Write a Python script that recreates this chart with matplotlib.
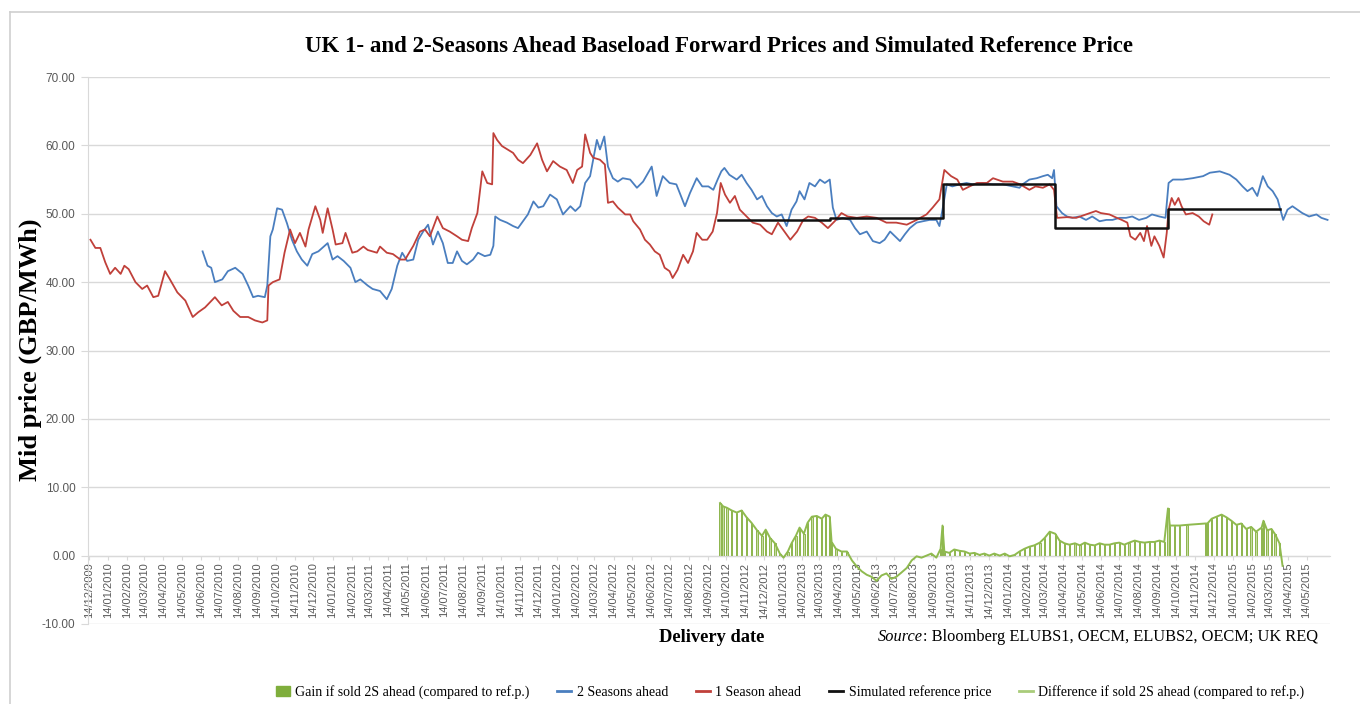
import matplotlib
matplotlib.use("Agg")
import matplotlib.pyplot as plt
from matplotlib.lines import Line2D
from matplotlib.patches import Patch
import numpy as np
import pandas as pd

# ---------------- data ----------------
red_dates = ["2009-12-17","2009-12-25","2010-01-02","2010-01-10","2010-01-18","2010-01-26","2010-02-04","2010-02-10",
"2010-02-17","2010-02-28","2010-03-11","2010-03-19","2010-03-29","2010-04-06","2010-04-17","2010-04-25","2010-05-07",
"2010-05-20","2010-06-01","2010-06-10","2010-06-21","2010-07-07","2010-07-18","2010-07-28","2010-08-06","2010-08-17",
"2010-08-30","2010-09-10","2010-09-22","2010-09-30","2010-10-02","2010-10-09","2010-10-20","2010-10-28","2010-11-06",
"2010-11-14","2010-11-22","2010-12-01","2010-12-06","2010-12-17","2010-12-25","2010-12-29","2011-01-06","2011-01-14",
"2011-01-19","2011-01-30","2011-02-04","2011-02-15","2011-02-23","2011-03-05","2011-03-12","2011-03-27","2011-04-01",
"2011-04-12","2011-04-22","2011-05-04","2011-05-12","2011-05-15","2011-05-25","2011-06-05","2011-06-13","2011-06-21",
"2011-07-03","2011-07-12","2011-07-23","2011-08-04","2011-08-12","2011-08-22","2011-08-28","2011-09-06","2011-09-14",
"2011-09-22","2011-09-30","2011-10-02","2011-10-08","2011-10-16","2011-10-25","2011-11-03","2011-11-11","2011-11-19",
"2011-12-01","2011-12-12","2011-12-20","2011-12-28","2012-01-07","2012-01-18","2012-01-29","2012-02-08","2012-02-15",
"2012-02-23","2012-02-28","2012-03-07","2012-03-12","2012-03-23","2012-03-31","2012-04-05","2012-04-13","2012-04-21",
"2012-05-03","2012-05-11","2012-05-16","2012-05-27","2012-06-04","2012-06-12","2012-06-20","2012-06-28","2012-07-06",
"2012-07-14","2012-07-19","2012-07-27","2012-08-05","2012-08-13","2012-08-21","2012-08-27","2012-09-05","2012-09-13",
"2012-09-22","2012-09-29","2012-10-05","2012-10-12","2012-10-20","2012-10-28","2012-11-05","2012-11-16","2012-11-26",
"2012-12-08","2012-12-19","2012-12-27","2013-01-06","2013-01-18","2013-01-26","2013-02-06","2013-02-16","2013-02-24",
"2013-03-07","2013-03-18","2013-03-28","2013-04-08","2013-04-19","2013-04-29","2013-05-14","2013-05-30","2013-06-15",
"2013-07-01","2013-07-17","2013-08-03","2013-08-19","2013-09-04","2013-09-14","2013-09-25","2013-10-03","2013-10-14",
"2013-10-24","2013-11-02","2013-11-13","2013-11-25","2013-12-11","2013-12-21","2014-01-06","2014-01-22","2014-02-03",
"2014-02-18","2014-02-28","2014-03-12","2014-03-23","2014-03-30","2014-04-04","2014-04-20","2014-05-05","2014-05-21",
"2014-06-06","2014-06-14","2014-06-28","2014-07-10","2014-07-18","2014-07-27","2014-08-01","2014-08-09","2014-08-17",
"2014-08-23","2014-08-28","2014-09-04","2014-09-09","2014-09-17","2014-09-24","2014-09-29","2014-10-02","2014-10-07",
"2014-10-12","2014-10-18","2014-10-23","2014-10-30","2014-11-10","2014-11-20","2014-11-28","2014-12-07","2014-12-12"]
red_vals = [46.2,45.0,45.0,42.9,41.2,42.1,41.2,42.4,
41.9,40.0,39.0,39.5,37.8,38.0,41.6,40.4,38.5,
37.3,34.9,35.6,36.3,37.8,36.6,37.1,35.8,34.9,
34.9,34.4,34.1,34.4,39.5,40.0,40.4,44.3,47.7,
45.7,47.2,45.2,47.7,51.1,49.1,47.2,50.8,47.7,
45.5,45.7,47.2,44.3,44.5,45.2,44.7,44.3,45.2,
44.3,44.1,43.3,43.3,43.8,45.3,47.4,47.7,46.7,
49.6,47.9,47.4,46.7,46.2,46.0,47.9,50.1,56.2,
54.5,54.3,61.8,60.8,59.9,59.4,58.9,57.9,57.4,
58.6,60.3,57.9,56.2,57.7,56.9,56.4,54.5,56.4,
56.9,61.6,58.9,58.2,57.9,57.2,51.6,51.8,50.9,
49.9,49.9,48.9,47.7,46.2,45.5,44.5,44.0,42.1,
41.6,40.6,41.8,44.0,42.8,44.5,47.2,46.2,46.2,
47.4,50.1,54.5,52.8,51.6,52.6,50.6,49.6,48.7,
48.4,47.4,47.0,48.7,47.2,46.2,47.4,49.1,49.6,
49.4,48.7,47.9,48.9,50.1,49.6,49.4,49.6,49.4,
48.7,48.7,48.4,49.1,49.9,50.9,52.1,56.4,55.5,
55.0,53.5,54.0,54.5,54.5,55.2,54.7,54.7,54.3,
53.5,54.0,53.8,54.3,53.5,49.4,49.5,49.4,49.9,
50.4,50.1,49.9,49.4,49.1,48.7,46.7,46.2,47.2,
46.0,48.2,45.3,46.7,45.3,43.6,47.2,50.6,52.3,
51.3,52.3,51.1,49.9,50.1,49.6,48.9,48.4,49.9]

blue_dates = ["2010-06-17","2010-06-25","2010-07-01","2010-07-07","2010-07-19","2010-07-28","2010-08-09","2010-08-21",
"2010-08-30","2010-09-07","2010-09-15","2010-09-26","2010-09-30","2010-10-05","2010-10-09","2010-10-16","2010-10-24",
"2010-11-01","2010-11-09","2010-11-17","2010-11-25","2010-12-04","2010-12-12","2010-12-22","2011-01-06","2011-01-14",
"2011-01-22","2011-02-01","2011-02-12","2011-02-20","2011-02-28","2011-03-12","2011-03-20","2011-04-01","2011-04-12",
"2011-04-20","2011-04-29","2011-05-07","2011-05-15","2011-05-25","2011-06-02","2011-06-10","2011-06-18","2011-06-26",
"2011-07-04","2011-07-12","2011-07-20","2011-07-28","2011-08-04","2011-08-12","2011-08-20","2011-08-30","2011-09-07",
"2011-09-18","2011-09-27","2011-10-02","2011-10-05","2011-10-13","2011-10-24","2011-11-03","2011-11-11","2011-11-19",
"2011-11-27","2011-12-06","2011-12-14","2011-12-22","2012-01-02","2012-01-13","2012-01-23","2012-02-04","2012-02-12",
"2012-02-20","2012-02-28","2012-03-07","2012-03-12","2012-03-18","2012-03-23","2012-03-30","2012-04-05","2012-04-13",
"2012-04-21","2012-04-29","2012-05-11","2012-05-22","2012-06-01","2012-06-15","2012-06-23","2012-07-03","2012-07-14",
"2012-07-25","2012-08-08","2012-08-16","2012-08-27","2012-09-05","2012-09-15","2012-09-23","2012-09-30","2012-10-06",
"2012-10-11","2012-10-19","2012-10-31","2012-11-08","2012-11-16","2012-11-24","2012-12-03","2012-12-11","2012-12-19",
"2012-12-27","2013-01-04","2013-01-12","2013-01-20","2013-01-28","2013-02-05","2013-02-10","2013-02-18","2013-02-26",
"2013-03-07","2013-03-15","2013-03-23","2013-03-31","2013-04-05","2013-04-11","2013-04-21","2013-05-03","2013-05-11",
"2013-05-19","2013-05-30","2013-06-09","2013-06-20","2013-06-28","2013-07-07","2013-07-15","2013-07-23","2013-07-31",
"2013-08-08","2013-08-19","2013-08-29","2013-09-09","2013-09-20","2013-09-25","2013-09-30","2013-10-07","2013-10-16",
"2013-10-28","2013-11-08","2013-11-18","2013-12-04","2013-12-21","2014-01-06","2014-01-22","2014-02-02","2014-02-07",
"2014-02-18","2014-03-02","2014-03-12","2014-03-20","2014-03-27","2014-03-30","2014-04-03","2014-04-12","2014-04-20",
"2014-04-29","2014-05-10","2014-05-21","2014-05-31","2014-06-12","2014-06-23","2014-07-03","2014-07-14","2014-07-25",
"2014-08-04","2014-08-15","2014-08-27","2014-09-05","2014-09-17","2014-09-27","2014-10-02","2014-10-09","2014-10-25",
"2014-11-10","2014-11-27","2014-12-08","2014-12-24","2015-01-09","2015-01-20","2015-01-30","2015-02-07","2015-02-15",
"2015-02-23","2015-03-04","2015-03-12","2015-03-20","2015-03-28","2015-04-03","2015-04-06","2015-04-13","2015-04-21",
"2015-04-29","2015-05-07","2015-05-18","2015-05-30","2015-06-07","2015-06-17"]
blue_vals = [44.5,42.4,42.1,40.0,40.4,41.6,42.1,41.2,
39.5,37.8,38.0,37.8,39.5,46.7,47.7,50.8,50.6,
48.6,46.2,44.5,43.3,42.4,44.1,44.5,45.7,43.3,
43.8,43.1,42.1,40.0,40.4,39.5,39.0,38.7,37.5,
39.0,42.4,44.3,43.1,43.3,46.2,47.4,48.4,45.5,
47.4,45.7,42.8,42.8,44.5,43.1,42.6,43.3,44.3,
43.8,44.0,45.3,49.6,49.1,48.7,48.2,47.9,48.9,
49.9,51.8,50.9,51.1,52.8,52.1,49.9,51.1,50.4,
51.1,54.5,55.5,57.9,60.8,59.4,61.3,56.9,55.2,
54.7,55.2,55.0,53.8,54.7,56.9,52.6,55.5,54.5,
54.3,51.1,53.0,55.2,54.0,54.0,53.5,55.0,56.2,
56.7,55.7,55.0,55.7,54.5,53.5,52.1,52.6,51.1,
50.1,49.6,49.9,48.2,50.6,51.8,53.3,52.1,54.5,
54.0,55.0,54.5,55.0,50.9,49.1,49.4,49.1,47.9,
47.0,47.4,46.0,45.7,46.2,47.4,46.7,46.0,47.0,
47.9,48.7,48.9,49.1,49.1,48.2,50.6,54.3,54.0,
54.3,54.5,54.3,54.5,54.3,54.3,54.0,53.8,54.3,
55.0,55.2,55.5,55.7,55.2,56.4,51.1,50.1,49.6,
49.4,49.6,49.1,49.6,48.9,49.1,49.1,49.4,49.4,
49.6,49.1,49.4,49.9,49.6,49.4,54.5,55.0,55.0,
55.2,55.5,56.0,56.2,55.7,55.0,54.0,53.3,53.8,
52.6,55.5,54.0,53.3,52.1,50.1,49.1,50.6,51.1,
50.6,50.1,49.6,49.9,49.4,49.1]

ref_dates = ["2012-10-01","2013-04-01","2013-10-01","2014-04-01","2014-10-01","2015-04-01"]
ref_vals = [49.1,49.4,54.4,47.9,50.7,50.7]

diff_dates = ["2012-10-04","2012-10-09","2012-10-15","2012-10-23","2012-10-31","2012-11-08","2012-11-16","2012-11-24",
"2012-12-03","2012-12-11","2012-12-17","2012-12-24","2013-01-01","2013-01-09","2013-01-15","2013-01-22","2013-01-28",
"2013-02-04","2013-02-10","2013-02-17","2013-02-23","2013-03-02","2013-03-10","2013-03-18","2013-03-24","2013-03-31",
"2013-04-03","2013-04-10","2013-04-19","2013-04-28","2013-05-06","2013-05-14","2013-05-22","2013-05-30","2013-06-07",
"2013-06-15","2013-06-23","2013-07-01","2013-07-09","2013-07-17","2013-07-25","2013-08-03","2013-08-11","2013-08-19",
"2013-08-27","2013-09-04","2013-09-12","2013-09-20","2013-09-27","2013-09-30","2013-10-03","2013-10-11","2013-10-19",
"2013-10-28","2013-11-05","2013-11-13","2013-11-21","2013-11-29","2013-12-07","2013-12-15","2013-12-23","2014-01-01",
"2014-01-09","2014-01-17","2014-01-25","2014-02-02","2014-02-10","2014-02-18","2014-02-26","2014-03-07","2014-03-15",
"2014-03-23","2014-04-01","2014-04-08","2014-04-16","2014-04-24","2014-05-03","2014-05-11","2014-05-19","2014-05-27",
"2014-06-04","2014-06-12","2014-06-20","2014-06-28","2014-07-06","2014-07-14","2014-07-22","2014-07-30","2014-08-08",
"2014-08-16","2014-08-24","2014-09-01","2014-09-09","2014-09-17","2014-09-25","2014-10-01","2014-10-04","2014-10-12",
"2014-10-20","2014-11-01","2014-12-01","2014-12-04","2014-12-11","2014-12-19","2014-12-27","2015-01-04","2015-01-12",
"2015-01-20","2015-01-28","2015-02-05","2015-02-13","2015-02-21","2015-03-02","2015-03-05","2015-03-11","2015-03-18",
"2015-03-24","2015-03-31","2015-04-05"]
diff_vals = [7.7,7.2,7.0,6.6,6.3,6.6,5.6,4.8,
3.7,2.9,3.8,2.6,1.8,0.3,-0.3,0.6,1.8,
2.9,4.1,3.2,4.8,5.7,5.8,5.4,6.0,5.7,
2.0,1.0,0.6,0.6,-0.7,-1.6,-2.3,-2.8,-3.1,
-3.7,-2.9,-2.6,-3.4,-3.1,-2.5,-1.8,-0.7,-0.1,
-0.3,0.0,0.3,-0.3,1.0,4.4,0.6,0.4,0.9,
0.7,0.6,0.3,0.4,0.1,0.3,0.0,0.3,0.0,
0.3,-0.1,0.1,0.6,1.0,1.3,1.5,1.9,2.6,
3.5,3.2,2.2,1.8,1.6,1.8,1.5,1.9,1.6,
1.5,1.8,1.6,1.6,1.8,1.9,1.6,1.9,2.2,
2.0,1.9,2.0,2.0,2.2,2.0,6.9,4.4,4.4,
4.4,4.5,4.7,4.7,5.4,5.7,6.0,5.6,5.1,
4.5,4.7,3.9,4.2,3.5,4.1,5.1,3.7,3.9,
3.1,1.8,-1.5]

tick_first = "2009-12-14"
tick_count = 66

title = "UK 1- and 2-Seasons Ahead Baseload Forward Prices and Simulated Reference Price"
ylabel = "Mid price (GBP/MWh)"
xlabel = "Delivery date"
source_it = "Source"
source_rest = ": Bloomberg ELUBS1, OECM, ELUBS2, OECM; UK REQ"
legend_labels = ["Gain if sold 2S ahead (compared to ref.p.)", "2 Seasons ahead", "1 Season ahead",
                 "Simulated reference price", "Difference if sold 2S ahead (compared to ref.p.)"]

# ---------------- colours ----------------
C_BLUE = "#4a7ebf"
C_RED = "#c0403a"
C_BLACK = "#111111"
C_DIFF = "#8fba4f"
C_BAR_FACE = "#c6dba0"
C_BAR_EDGE = "#8db54c"
C_GAIN = "#7fae3c"
GRID = "#d9d9d9"
TICKC = "#595959"

W, H = 1360, 704
fig = plt.figure(figsize=(W / 100, H / 100), dpi=100)
fig.patch.set_facecolor("white")
ax = fig.add_axes([88 / W, 1 - 624 / H, (1330 - 88) / W, (624 - 77) / H])

# axis styling first (spine repositioning recreates ticks)
for s in ["top", "right"]:
    ax.spines[s].set_visible(False)
ax.spines["left"].set_color(GRID)
ax.spines["bottom"].set_color(GRID)
ax.spines["bottom"].set_position(("data", 0))

rd = pd.to_datetime(red_dates)
bd = pd.to_datetime(blue_dates)
fd = pd.to_datetime(ref_dates)
dd = pd.to_datetime(diff_dates)
diff = np.array(diff_vals)

pos = diff > 0
ax.bar(dd[pos], diff[pos], width=2.2, color=C_BAR_FACE, edgecolor=C_BAR_EDGE, linewidth=0.7, zorder=2)
ax.plot(dd, diff, color=C_DIFF, lw=1.4, zorder=3)
ax.plot(bd, blue_vals, color=C_BLUE, lw=1.3, zorder=4)
ax.plot(rd, red_vals, color=C_RED, lw=1.3, zorder=5)
ax.step(fd, ref_vals, where="post", color=C_BLACK, lw=1.8, zorder=6)

ax.set_ylim(-10, 70)
ax.set_yticks(np.arange(-10, 71, 10))
ax.yaxis.set_major_formatter(matplotlib.ticker.FormatStrFormatter("%.2f"))
ax.set_xlim(pd.Timestamp("2009-12-13"), pd.Timestamp("2015-06-21"))
ticks = pd.date_range(tick_first, periods=tick_count, freq=pd.DateOffset(months=1))
ax.set_xticks(ticks)
ax.set_xticklabels([t.strftime("%d/%m/%Y") for t in ticks])
ax.tick_params(axis="x", direction="out", length=3, color=GRID, pad=2, labelsize=8,
               labelcolor=TICKC, labelrotation=90)
ax.tick_params(axis="y", direction="out", length=5, color=GRID, pad=4, labelsize=8.5,
               labelcolor=TICKC)
for lab in ax.get_xticklabels() + ax.get_yticklabels():
    lab.set_family("Liberation Sans")

ax.grid(axis="y", color=GRID, lw=1.0, zorder=0)
ax.set_axisbelow(True)

serif = "Liberation Serif"
fig.text(719 / W, 1 - 47 / H, title, ha="center", va="center", fontsize=16.5, fontweight="bold", family=serif)
fig.text(30 / W, 1 - 350 / H, ylabel, ha="center", va="center", rotation=90, fontsize=19,
         fontweight="bold", family=serif)
fig.text(712 / W, 1 - 638 / H, xlabel, ha="center", va="center", fontsize=13.3, fontweight="bold", family=serif)

# source line: italic "Source" + regular remainder, right-aligned at x=1318
t_it = fig.text(0, 1 - 637 / H, source_it, ha="left", va="center", fontsize=11.8, family=serif, style="italic")
t_rest = fig.text(0, 1 - 637 / H, source_rest, ha="left", va="center", fontsize=11.8, family=serif)
fig.canvas.draw()
w_it = t_it.get_window_extent().width
w_rest = t_rest.get_window_extent().width
x0 = 1318 - (w_it + w_rest)
t_it.set_x(x0 / W)
t_rest.set_x((x0 + w_it) / W)

# outer frame
fig.add_artist(Line2D([10 / W, 10 / W], [0, 1 - 12 / H], transform=fig.transFigure, color="#cfcfcf", lw=1.2))
fig.add_artist(Line2D([10 / W, 1], [1 - 12 / H, 1 - 12 / H], transform=fig.transFigure, color="#cfcfcf", lw=1.2))

handles = [Patch(facecolor=C_GAIN, edgecolor=C_GAIN),
           Line2D([], [], color=C_BLUE, lw=2),
           Line2D([], [], color=C_RED, lw=2),
           Line2D([], [], color=C_BLACK, lw=2),
           Line2D([], [], color="#a9cc7a", lw=2)]
fig.legend(handles, legend_labels, loc="center", bbox_to_anchor=(790 / W, 1 - 692 / H), ncol=5,
           frameon=False, prop={"family": serif, "size": 10}, handlelength=1.0, handletextpad=0.4,
           columnspacing=2.0)

fig.savefig("out.png", dpi=100)
